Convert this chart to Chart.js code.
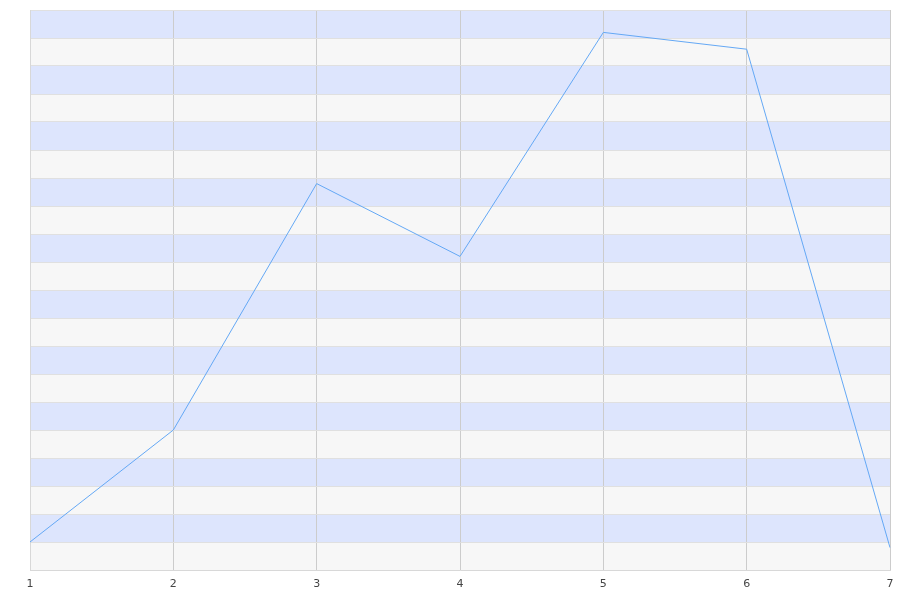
<!DOCTYPE html>
<html>
<head>
<meta charset="utf-8">
<script src="https://cdn.jsdelivr.net/npm/chart.js@4/dist/chart.umd.min.js"></script>
<style>
  html, body { margin: 0; padding: 0; background: #ffffff; }
  #box { width: 900px; height: 600px; }
</style>
</head>
<body>
<div id="box"><canvas id="chart"></canvas></div>
<script>
const labels = ["1", "2", "3", "4", "5", "6", "7"];
const values = [5, 25, 69, 56, 96, 93, 4];

// alternating stripes between y ticks
const stripes = {
  id: "stripes",
  beforeDraw(chart) {
    const ctx = chart.ctx;
    const area = chart.chartArea;
    const y = chart.scales.y;
    ctx.save();
    y.ticks.forEach((t, i) => {
      if (i === y.ticks.length - 1) return;
      const top = y.getPixelForValue(y.ticks[i + 1].value);
      const bottom = y.getPixelForValue(t.value);
      ctx.fillStyle = i % 2 === 0 ? "#f7f7f7" : "#dde5fd";
      ctx.fillRect(area.left, top, area.right - area.left, bottom - top);
    });
    ctx.restore();
  }
};

new Chart(document.getElementById("chart"), {
  type: "line",
  data: {
    labels: labels,
    datasets: [{
      data: values,
      borderColor: "#64a8f5",
      borderWidth: 1,
      pointRadius: 0,
      fill: false,
      tension: 0
    }]
  },
  options: {
    responsive: true,
    maintainAspectRatio: false,
    animation: false,
    layout: { padding: { left: 30, right: 10, top: 10, bottom: 0 } },
    plugins: {
      legend: { display: false },
      tooltip: { enabled: false }
    },
    scales: {
      x: {
        offset: false,
        grid: { color: "#cccccc", drawTicks: false },
        border: { color: "#d8d8d8" },
        ticks: { color: "#444444", font: { family: "DejaVu Sans", size: 11 }, padding: 8, maxRotation: 0 },
        afterFit(scale) {
          scale.height = 30;
          scale.paddingLeft = 0;
          scale.paddingRight = 0;
        }
      },
      y: {
        min: 0,
        max: 100,
        grid: { color: "#e0e0e0", drawTicks: false },
        border: { color: "#d8d8d8" },
        ticks: { stepSize: 5, display: false },
        afterFit(scale) { scale.width = 0; }
      }
    }
  },
  plugins: [stripes]
});
</script>
</body>
</html>
